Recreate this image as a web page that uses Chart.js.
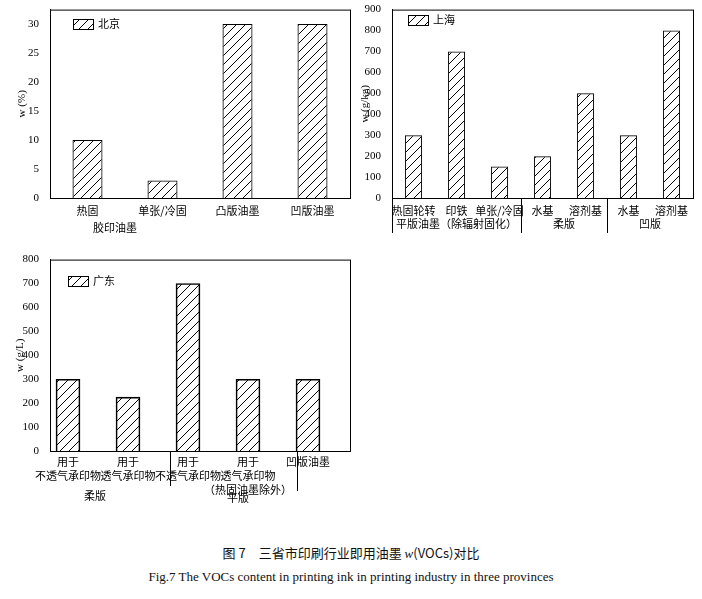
<!DOCTYPE html>
<html><head><meta charset="utf-8">
<script src="https://cdn.jsdelivr.net/npm/chart.js@4"></script>
<style>
body{margin:0;background:#fff;width:702px;height:599px;position:relative;overflow:hidden}
canvas{position:absolute}
.cap{position:absolute;left:0;width:702px;text-align:center;color:#111}
</style></head><body>
<canvas id="c1" style="left:0;top:0" width="360" height="245"></canvas>
<canvas id="c2" style="left:360px;top:0" width="342" height="245"></canvas>
<canvas id="c3" style="left:0;top:250px" width="360" height="260"></canvas>
<div class="cap" style="top:543px;font:13px 'Noto Sans CJK SC'">图 7　三省市印刷行业即用油墨 <i style="font-family:'Liberation Serif'">w</i>(VOCs)对比</div>
<div class="cap" style="top:569px;font:13px 'Liberation Serif'">Fig.7 The VOCs content in printing ink in printing industry in three provinces</div>
<script>
const bjCats=['热固','单张/冷固','凸版油墨','凹版油墨'];
const bjVals=[10,3,30,30];
const shCats=['热固轮转','印铁','单张/冷固','水基','溶剂基','水基','溶剂基'];
const shVals=[300,700,150,200,500,300,800];
const gdCats=[['用于','不透气承印物'],['用于','透气承印物'],['用于','不透气承印物'],['用于','透气承印物','（热固油墨除外）'],['凹版油墨']];
const gdVals=[300,225,700,300,300];

const CJK="'Noto Sans CJK SC'";
function hatch(){
  const c=document.createElement('canvas');c.width=c.height=9;
  const g=c.getContext('2d');g.strokeStyle='#000';g.lineWidth=1;
  g.beginPath();g.moveTo(-1,10);g.lineTo(10,-1);g.moveTo(-1,1);g.lineTo(1,-1);g.moveTo(8,10);g.lineTo(10,8);g.stroke();
  return document.createElement('canvas').getContext('2d').createPattern(c,'repeat');
}
const pat=hatch();

function make(id,opt){
  const {labels,data,linear,ymax,step,yw,xh,pad,title,titleX,legend,legX,legY,extra}=opt;
  const plug={id:'p'+id,afterDraw(ch){
    const g=ch.ctx,a=ch.chartArea;
    g.save();g.strokeStyle='#000';g.lineWidth=1;
    g.strokeRect(a.left+0.5,a.top+0.5,a.right-a.left,a.bottom-a.top);
    g.translate(titleX,(a.top+a.bottom)/2);g.rotate(-Math.PI/2);
    g.fillStyle='#000';g.font="11px 'Liberation Serif'";g.textAlign='center';g.textBaseline='middle';
    g.fillText(title,0,0);g.setTransform(1,0,0,1,0,0);
    g.fillStyle=pat;g.fillRect(legX,legY,20,10);g.strokeRect(legX+0.5,legY+0.5,20,10);
    g.fillStyle='#000';g.font="11px "+CJK;g.textAlign='left';g.fillText(legend,legX+25,legY+5);
    extra(ch,g,a);
    g.restore();
  }};
  return new Chart(document.getElementById(id),{type:'bar',
    data:{labels:linear?undefined:labels,datasets:[{data:linear?data.map((v,i)=>({x:i,y:v})):data,backgroundColor:pat,borderColor:'#000',borderWidth:1,
      barPercentage:0.4,categoryPercentage:1,barThickness:linear?24:undefined}]},
    options:{responsive:false,animation:false,events:[],layout:{padding:pad},
      plugins:{legend:{display:false},tooltip:{enabled:false}},
      scales:{
        x:linear?{type:'linear',offset:false,min:-0.3,max:4.7,grid:{display:false},border:{display:false},ticks:{display:false},afterFit(s){s.height=xh;}}
          :{grid:{display:false},border:{display:false},ticks:{display:false},afterFit(s){s.height=xh;}},
        y:{min:0,max:ymax,grid:{display:false,drawTicks:true},border:{color:'#000'},
          ticks:{stepSize:step,color:'#000',font:{family:'Liberation Serif',size:11},padding:3},
          afterBuildTicks(s){s.ticks=s.ticks.filter(t=>t.value%step===0);},
          afterFit(s){s.width=yw;}}
      }},plugins:[plug]});
}
function txt(g,s,x,y){g.fillStyle='#000';g.font="11px "+CJK;g.textAlign='center';g.textBaseline='middle';g.fillText(s,x,y);}
function vline(g,x,y1,y2){g.beginPath();g.moveTo(Math.round(x)+0.5,y1);g.lineTo(Math.round(x)+0.5,y2);g.stroke();}

make('c1',{labels:bjCats,data:bjVals,ymax:32.5,step:5,yw:50,xh:47,pad:{top:5,right:10},title:'w (%)',titleX:22,legend:'北京',legX:73,legY:19,
  extra(ch,g,a){const x=ch.scales.x;bjCats.forEach((c,i)=>txt(g,c,x.getPixelForValue(i),a.bottom+13));txt(g,'胶印油墨',115,a.bottom+30);}});

make('c2',{labels:shCats,data:shVals,ymax:900,step:100,yw:32,xh:47,pad:{top:5,right:9},title:'w (g/kg)',titleX:5,legend:'上海',legX:48,legY:15,
  extra(ch,g,a){const x=ch.scales.x;shCats.forEach((c,i)=>txt(g,c,x.getPixelForValue(i),a.bottom+13));
    const b=a.bottom;vline(g,a.left,b,b+35);vline(g,(x.getPixelForValue(2)+x.getPixelForValue(3))/2,b,b+35);vline(g,(x.getPixelForValue(4)+x.getPixelForValue(5))/2,b,b+35);
    txt(g,'平版油墨（除辐射固化）',x.getPixelForValue(1),b+26);txt(g,'柔版',x.getPixelForValue(3.5),b+26);txt(g,'凹版',x.getPixelForValue(5.5),b+26);}});

make('c3',{linear:true,labels:gdCats,data:gdVals,ymax:800,step:100,yw:50,xh:59,pad:{top:8,right:10},title:'w (g/L)',titleX:20,legend:'广东',legX:68,legY:26,
  extra(ch,g,a){const x=ch.scales.x;gdCats.forEach((c,i)=>c.forEach((s,j)=>txt(g,s,x.getPixelForValue(i),a.bottom+11+j*14)));
    const b=a.bottom;vline(g,170,b,b+35);vline(g,297,b,b+40);txt(g,'柔版',95,b+45);txt(g,'平版',238,b+47);}});
</script></body></html>
